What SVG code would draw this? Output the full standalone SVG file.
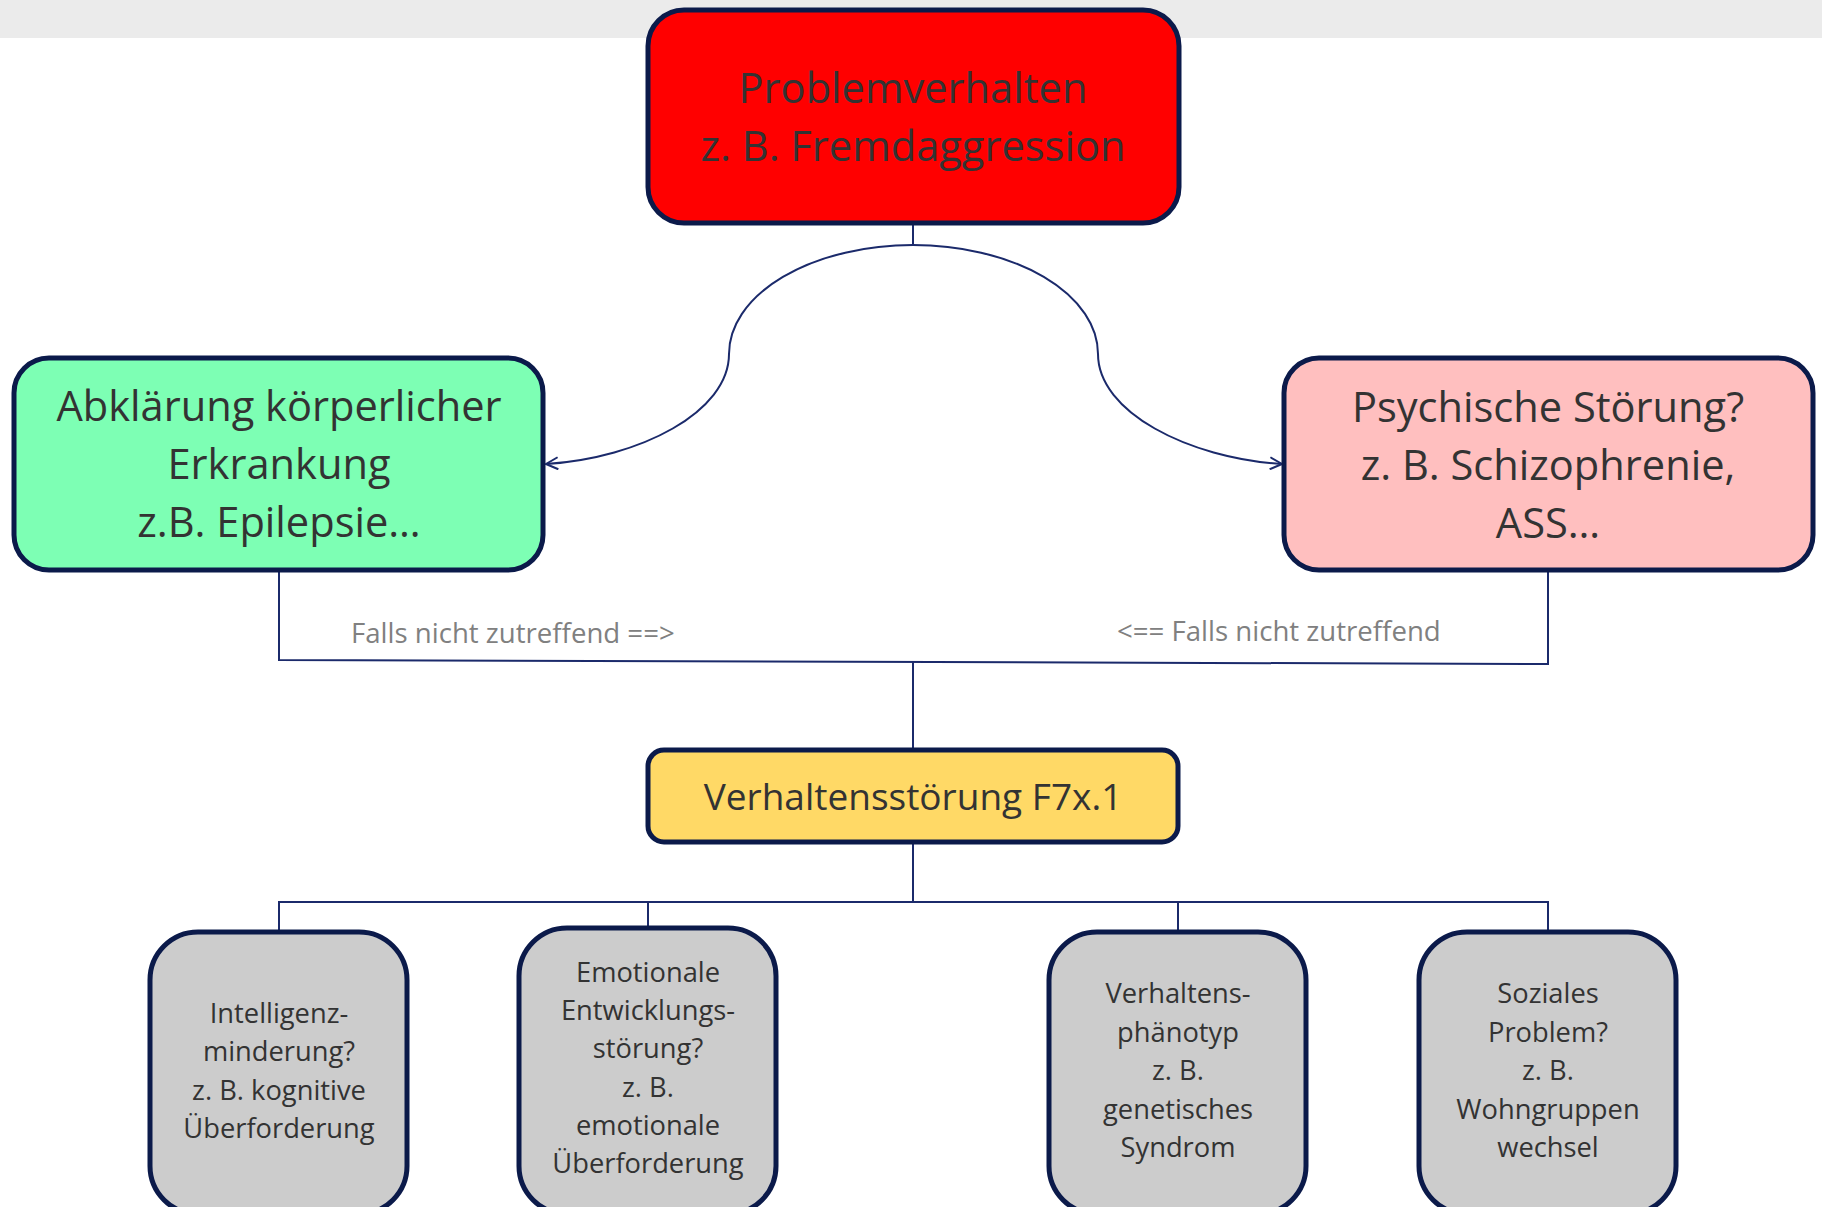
<svg xmlns="http://www.w3.org/2000/svg" width="1822" height="1207" viewBox="0 0 1822 1207">
<defs>
<style>
.box{stroke:#0b1a4a;stroke-width:5}
.t{font-family:"Open Sans","Noto Sans",sans-serif;fill:#333333;text-anchor:middle}
.big{font-size:41.6px}
.mid{font-size:37px}
.sm{font-size:27.3px}
.lbl{font-family:"Open Sans","Noto Sans",sans-serif;font-size:27.6px;fill:#808080}
.c{fill:none;stroke:#1b2a6b;stroke-width:2}
</style>
<marker id="arr" viewBox="0 0 14 14" refX="13" refY="7" markerWidth="14" markerHeight="14" markerUnits="userSpaceOnUse" orient="auto">
<path d="M1,1 L13,7 L1,13" fill="none" stroke="#1b2a6b" stroke-width="2"/>
</marker>
</defs>
<rect x="0" y="0" width="1822" height="1207" fill="#ffffff"/>
<rect x="0" y="0" width="1822" height="38" fill="#ebebeb"/>
<g id="connectors">
<path class="c" d="M913,223 L913,245"/>
<path class="c" marker-end="url(#arr)" d="M913,245 A184 109 0 0 0 729,354 C729,412 640,458 546,464"/>
<path class="c" marker-end="url(#arr)" d="M913,245 A185 109 0 0 1 1098,354 C1098,412 1188,458 1282,464"/>
<path class="c" d="M279,570 L279,660 L1548,664 L1548,571"/>
<path class="c" d="M913,662 L913,749"/>
<path class="c" d="M913,843 L913,902"/>
<path class="c" d="M279,931 L279,902 L1548,902 L1548,931"/>
<path class="c" d="M648,902 L648,927"/>
<path class="c" d="M1178,902 L1178,931"/>
</g>
<g id="lbl-left"><text class="lbl" x="351" y="643">Falls nicht zutreffend ==&gt;</text></g>
<g id="lbl-right"><text class="lbl" x="1117" y="641">&lt;== Falls nicht zutreffend</text></g>
<g id="n-problem">
<rect class="box" x="648" y="10" width="531" height="213" rx="36" fill="#ff0000"/>
<text class="t big" x="913" y="103">Problemverhalten</text>
<text class="t big" x="913" y="161">z. B. Fremdaggression</text>
</g>
<g id="n-koerper">
<rect class="box" x="14" y="358" width="529" height="212" rx="35" fill="#7dffb4"/>
<text class="t big" x="279" y="421">Abklärung körperlicher</text>
<text class="t big" x="279" y="479">Erkrankung</text>
<text class="t big" x="279" y="537">z.B. Epilepsie…</text>
</g>
<g id="n-psych">
<rect class="box" x="1284" y="358" width="529" height="212" rx="35" fill="#ffbfbf"/>
<text class="t big" x="1548" y="422">Psychische Störung?</text>
<text class="t big" x="1548" y="480">z. B. Schizophrenie,</text>
<text class="t big" x="1548" y="538">ASS…</text>
</g>
<g id="n-verhalten">
<rect class="box" x="648" y="750" width="530" height="92" rx="16" fill="#ffd966"/>
<text class="t mid" x="913" y="810">Verhaltensstörung F7x.1</text>
</g>
<g id="n-intelligenz">
<rect class="box" x="150" y="932" width="257" height="282" rx="48" fill="#cccccc"/>
<text class="t sm" x="279" y="1023">Intelligenz-</text>
<text class="t sm" x="279" y="1061">minderung?</text>
<text class="t sm" x="279" y="1100">z. B. kognitive</text>
<text class="t sm" x="279" y="1138">Überforderung</text>
</g>
<g id="n-emotional">
<rect class="box" x="519" y="928" width="257" height="286" rx="48" fill="#cccccc"/>
<text class="t sm" x="648" y="982">Emotionale</text>
<text class="t sm" x="648" y="1020">Entwicklungs-</text>
<text class="t sm" x="648" y="1058">störung?</text>
<text class="t sm" x="648" y="1097">z. B.</text>
<text class="t sm" x="648" y="1135">emotionale</text>
<text class="t sm" x="648" y="1173">Überforderung</text>
</g>
<g id="n-phaenotyp">
<rect class="box" x="1049" y="932" width="257" height="282" rx="48" fill="#cccccc"/>
<text class="t sm" x="1178" y="1003">Verhaltens-</text>
<text class="t sm" x="1178" y="1042">phänotyp</text>
<text class="t sm" x="1178" y="1080">z. B.</text>
<text class="t sm" x="1178" y="1119">genetisches</text>
<text class="t sm" x="1178" y="1157">Syndrom</text>
</g>
<g id="n-sozial">
<rect class="box" x="1419" y="932" width="257" height="282" rx="48" fill="#cccccc"/>
<text class="t sm" x="1548" y="1003">Soziales</text>
<text class="t sm" x="1548" y="1042">Problem?</text>
<text class="t sm" x="1548" y="1080">z. B.</text>
<text class="t sm" x="1548" y="1119">Wohngruppen</text>
<text class="t sm" x="1548" y="1157">wechsel</text>
</g>
</svg>
